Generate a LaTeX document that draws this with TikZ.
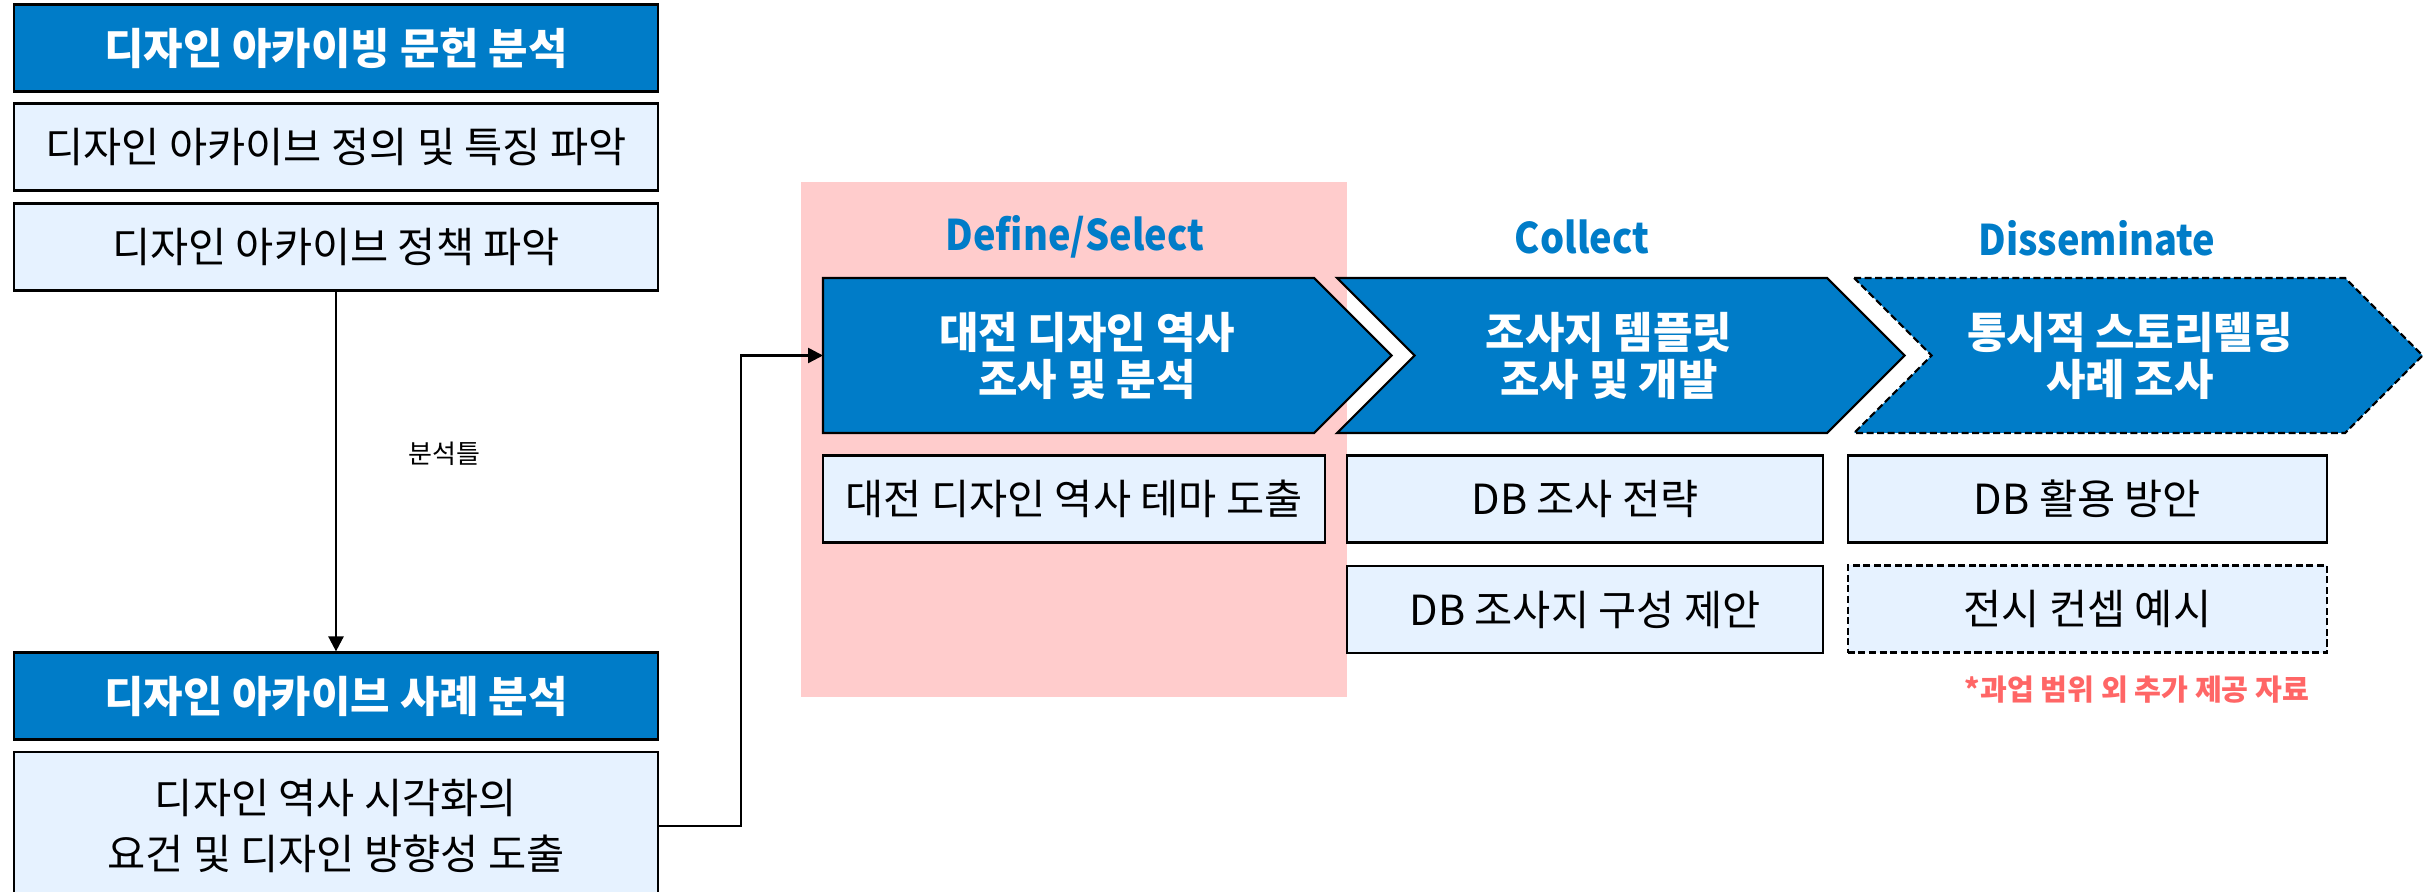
\documentclass[tikz,border=0pt]{standalone}
\usepackage{fontspec}
\setmainfont{Noto Sans CJK KR}
\newfontfamily\phasefont[FakeStretch=0.9]{Noto Sans CJK KR}
\usetikzlibrary{arrows.meta}
\definecolor{archblue}{RGB}{0,124,200}
\definecolor{archlight}{RGB}{230,242,255}
\definecolor{archpink}{RGB}{255,204,204}
\definecolor{archred}{RGB}{255,102,102}
\tikzset{
	head/.style={draw,line width=0.6pt,fill=archblue,text=white,inner sep=0pt,
		minimum width=6.44cm,minimum height=0.87cm,font=\fontsize{12.2}{14}\selectfont\bfseries},
	item/.style={draw,line width=0.6pt,fill=archlight,inner sep=0pt,align=center,
		minimum height=0.87cm,font=\fontsize{11.8}{16}\selectfont},
	phase/.style={text=archblue,inner sep=0pt,font=\phasefont\fontsize{12}{14}\selectfont\bfseries},
	chev/.style={draw,line width=0.6pt,fill=archblue},
	chevtext/.style={text=white,align=center,inner sep=0pt,font=\fontsize{12.2}{13.4}\selectfont\bfseries},
	conn/.style={line width=0.7pt,-{Triangle[length=0.15cm,width=0.15cm]}}
}
\begin{document}
\begin{tikzpicture}[x=0.01cm,y=-0.01cm]
		% Frame.
		\clip (0,0) rectangle (2433,892);
		
		% Literature analysis.
		\node[head] (lit) at (336,48) {디자인 아카이빙 문헌 분석};
		\node[item,minimum width=6.44cm] (lit1) at (336,147) {디자인 아카이브 정의 및 특징 파악};
		\node[item,minimum width=6.44cm] (lit2) at (336,247) {디자인 아카이브 정책 파악};
		
		% Case analysis.
		\node[head] (case) at (336,696) {디자인 아카이브 사례 분석};
		\node[item,minimum width=6.44cm,minimum height=1.48cm] (case1) at (336,826) {디자인 역사 시각화의\\요건 및 디자인 방향성 도출};
		
		% Connect literature and cases.
		\draw[conn] (lit2) -- (case) node[pos=0.45,right=0.71cm,inner sep=0pt,font=\fontsize{7.4}{8}\selectfont] (frame) {분석틀};
		
		% Highlight first phase.
		\fill[archpink] (801,182) rectangle (1347,697);
		
		% Draw phases.
		\draw[chev] (823,278) -- (1314,278) -- (1391.5,355.5) -- (1314,433) -- (823,433) -- cycle;
		\draw[chev] (1337,278) -- (1827,278) -- (1904.5,355.5) -- (1827,433) -- (1337,433) -- (1414.5,355.5) -- cycle;
		\draw[chev,dash pattern=on 2pt off 1pt] (1854,278) -- (2345,278) -- (2422.5,355.5) -- (2345,433) -- (1854,433) -- (1931.5,355.5) -- cycle;
		\coordinate (defin) at (823,355.5);
		
		\node[phase] (defhead) at (1075,237) {Define/Select};
		\node[phase] (colhead) at (1582,237) {Collect};
		\node[phase] (dishead) at (2097,238) {Disseminate};
		
		\node[chevtext] (def) at (1087,356) {대전 디자인 역사\\조사 및 분석};
		\node[chevtext] (col) at (1609,356) {조사지 템플릿\\조사 및 개발};
		\node[chevtext] (dis) at (2130,356) {통시적 스토리텔링\\사례 조사};
		
		% Phase outputs.
		\node[item,minimum width=5.02cm] (def1) at (1074,499) {대전 디자인 역사 테마 도출};
		\node[item,minimum width=4.76cm] (col1) at (1585,499) {DB 조사 전략};
		\node[item,minimum width=4.76cm] (col2) at (1585,609.5) {DB 조사지 구성 제안};
		\node[item,minimum width=4.79cm] (dis1) at (2087.5,499) {DB 활용 방안};
		\node[item,dash pattern=on 2pt off 1pt,minimum width=4.79cm] (dis2) at (2087.5,609) {전시 컨셉 예시};
		\node[text=archred,inner sep=0pt,font=\fontsize{8.3}{9}\selectfont\bfseries] (note) at (2137,690) {*과업 범위 외 추가 제공 자료};
		
		% Connect cases to first phase.
		\draw[conn] (case1.east) -- ++(82,0) |- (defin);
	\end{tikzpicture}
\end{document}
